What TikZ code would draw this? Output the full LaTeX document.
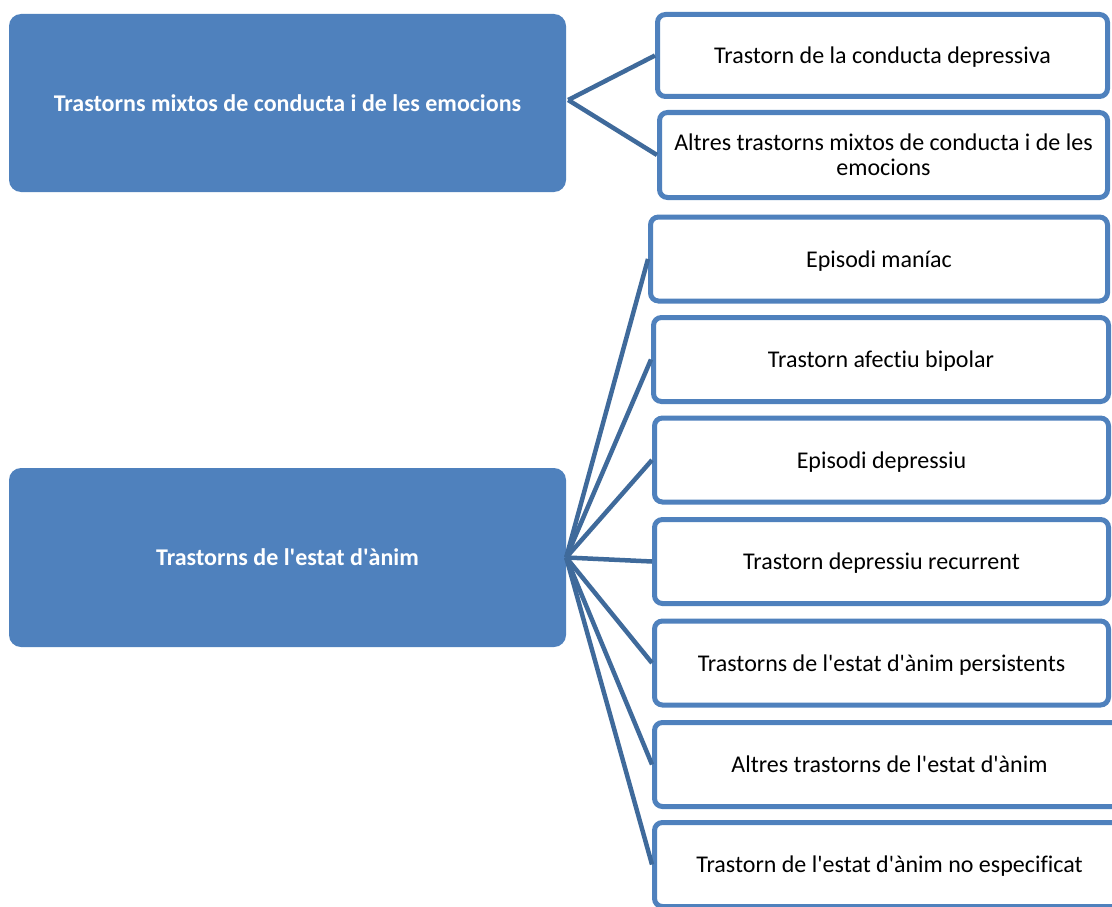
\documentclass[tikz,border=0pt]{standalone}
\usepackage{fontspec}
\setmainfont{Carlito}[Ligatures={TeXOff,CommonOff}]
\begin{document}
\begin{tikzpicture}[x=1pt,y=-1pt,
  headbox/.style={fill=boxblue, draw=none, rounded corners=12pt, text=white,
    font=\fontsize{24}{29}\selectfont\bfseries, inner sep=0pt,
    minimum width=557pt, align=center},
  leafbox/.style={draw=boxblue, fill=white, line width=5pt, rounded corners=8pt,
    font=\fontsize{24}{29}\selectfont, inner sep=0pt, align=center,
    text depth=0pt, minimum height=84pt},
  link/.style={draw=linkblue, line width=4.5pt}]
\definecolor{boxblue}{HTML}{4F81BD}
\definecolor{linkblue}{HTML}{3F6A9B}
\useasboundingbox (0,0) rectangle (1112,907);
\clip (0,0) rectangle (1112,907);
\fill[white] (0,0) rectangle (1112,907);

% first group
\node[headbox, minimum height=178pt] (mix) at (287.5,103) {Trastorns mixtos de conducta i de les emocions};
\node[leafbox, minimum width=450pt, minimum height=82pt] (mixA) at (882.5,55.5) {Trastorn de la conducta depressiva};
\node[leafbox, minimum width=448pt, minimum height=85pt] (mixB) at (883.5,155) {Altres trastorns mixtos de conducta i de les\\[-4pt] emocions};

% second group
\node[headbox, minimum height=179pt] (mood) at (287.5,557.5) {Trastorns de l'estat d'ànim};
\node[leafbox, minimum width=457pt] (m1) at (879,259) {Episodi maníac};
\node[leafbox, minimum width=455pt] (m2) at (881,359.5) {Trastorn afectiu bipolar};
\node[leafbox, minimum width=454pt] (m3) at (881.5,460) {Episodi depressiu};
\node[leafbox, minimum width=454pt] (m4) at (881.5,561.5) {Trastorn depressiu recurrent};
\node[leafbox, minimum width=454pt] (m5) at (881.5,663) {Trastorns de l'estat d'ànim persistents};
\node[leafbox, minimum width=470pt] (m6) at (889.5,764.5) {Altres trastorns de l'estat d'ànim};
\node[leafbox, minimum width=470pt] (m7) at (889.5,864.5) {Trastorn de l'estat d'ànim no especificat};

% connectors
\coordinate (mixO) at ([xshift=2pt,yshift=3pt]mix.east);
\coordinate (moodO) at (mood.east);
\foreach \c in {mixA,mixB} \draw[link] (mixO) -- (\c.west);
\foreach \c in {m1,m2,m3,m4,m5,m6,m7} \draw[link] (moodO) -- (\c.west);
\end{tikzpicture}
\end{document}
